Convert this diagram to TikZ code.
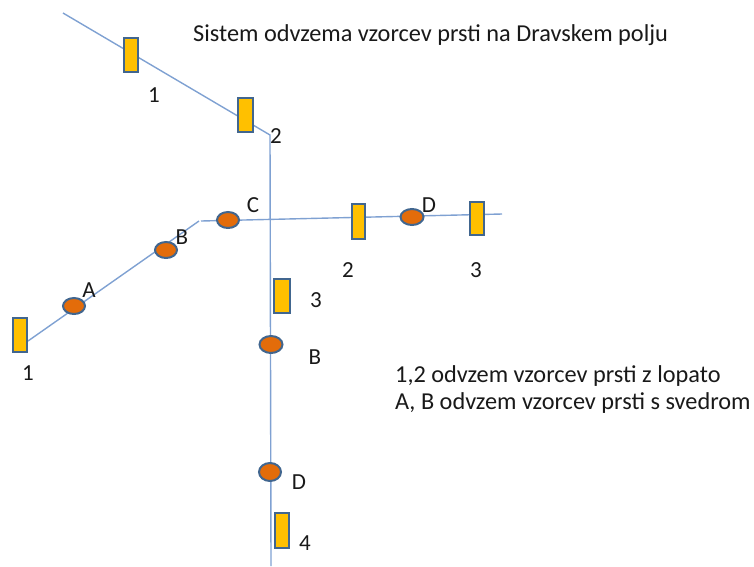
\documentclass[tikz,border=0pt]{standalone}
\usepackage{fontspec}
\setmainfont{Carlito}
\usetikzlibrary{shapes.geometric}
\definecolor{linec}{HTML}{7FA1D2}
\definecolor{edgec}{HTML}{41668F}
\definecolor{rectc}{HTML}{FFC000}
\definecolor{ellc}{HTML}{E36C0A}
\tikzset{
  pipe/.style={draw=linec, line width=1.4pt},
  probe/.style={draw=edgec, fill=rectc, line width=2pt, rectangle, inner sep=0pt, minimum width=14pt, minimum height=34pt},
  drill/.style={draw=edgec, fill=ellc, line width=2pt, ellipse, inner sep=0pt, minimum width=22pt, minimum height=16pt},
  lab/.style={inner sep=0pt, font=\fontsize{23}{27}\selectfont, text=black!90},
  txt/.style={inner sep=0pt, anchor=base west, font=\fontsize{24.3}{28}\selectfont, text=black!90}
}
\begin{document}
\begin{tikzpicture}[x=1pt,y=-1pt]
\useasboundingbox (0,0) rectangle (754,566);
% line coordinates
\coordinate (p0) at (63,13);
\coordinate (p1) at (270,135);
\coordinate (p2) at (271,566);
\coordinate (q0) at (28,341);
\coordinate (q1) at (199,221);
\coordinate (r0) at (201,221);
\coordinate (r1) at (502,214);
\draw[pipe] (p0) -- (p1) -- (p2);
\draw[pipe] (q0) -- (q1);
\draw[pipe] (r0) -- (r1);
% probes (rectangles)
\node[probe] (t1) at (131,55) {};
\node[probe, minimum width=15pt] (t2) at (245,115) {};
\node[probe] (l1) at (20,335) {};
\node[probe, minimum width=13pt, minimum height=35pt] (h2) at (358,221) {};
\node[probe, minimum height=33pt] (h3) at (477,218) {};
\node[probe, minimum width=16pt] (v3) at (282,296) {};
\node[probe, minimum height=35pt] (v4) at (282,530) {};
% drills (ellipses)
\node[drill] (eA) at (74,306) {};
\node[drill] (eB) at (166,250) {};
\node[drill] (eC) at (228,220) {};
\node[drill, minimum width=23pt] (eD) at (412,217) {};
\node[drill, minimum width=23pt, minimum height=17pt] (vB) at (271,344.5) {};
\node[drill, minimum width=22pt, minimum height=18pt] (vD) at (270,472) {};
% labels
\node[lab] (n1) at (154,95) {1};
\node[lab] (n2) at (276,136) {2};
\node[lab] (nA) at (89,290) {A};
\node[lab] (nB) at (182,237) {B};
\node[lab] (nC) at (253,205) {C};
\node[lab] (nD) at (429,205) {D};
\node[lab] (nh2) at (348,270) {2};
\node[lab] (nh3) at (476,270) {3};
\node[lab] (nv3) at (316,300) {3};
\node[lab] (nvB) at (315,357) {B};
\node[lab] (nvD) at (299,482) {D};
\node[lab] (nv4) at (305,543) {4};
\node[lab] (nl1) at (28,373) {1};
% texts
\node[txt] (title) at (193,41) {Sistem odvzema vzorcev prsti na Dravskem polju};
\node[txt] (leg1) at (395,382) {1,2 odvzem vzorcev prsti z lopato};
\node[txt] (leg2) at (395,409) {A, B odvzem vzorcev prsti s svedrom};
\end{tikzpicture}
\end{document}
